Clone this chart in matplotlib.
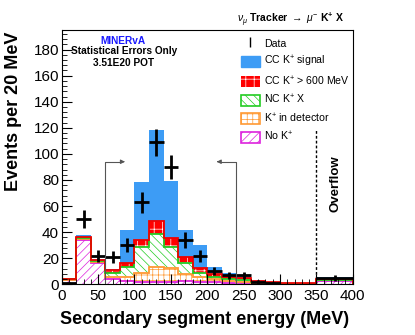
import numpy as np
import matplotlib
matplotlib.use("Agg")
import matplotlib.pyplot as plt
from matplotlib.patches import Patch
from matplotlib.lines import Line2D
from matplotlib.ticker import MultipleLocator

plt.rcParams["font.family"] = ["Liberation Sans", "DejaVu Sans"]
plt.rcParams["mathtext.fontset"] = "custom"
plt.rcParams["mathtext.rm"] = "Liberation Sans"
plt.rcParams["mathtext.it"] = "Liberation Sans:italic"
plt.rcParams["mathtext.bf"] = "Liberation Sans:bold"
plt.rcParams["hatch.linewidth"] = 0.5

# bin edges (MeV), last bin is the overflow
edges = [0, 20, 40, 60, 80, 100, 120, 140, 160, 180, 200, 220, 240,
         260, 280, 300, 320, 340, 350, 400]

# stacked MC components, bottom to top
no_k = [3, 34, 16.5, 3.8, 2.8, 2, 2, 2, 2.5, 2, 1.5, 1, 1, 0.8, 0.5, 0.3, 0.3, 0.3, 2.5]
k_det = [0.5, 0.5, 0.5, 1.6, 3.1, 7, 11.5, 10.3, 5.5, 3.4, 2.3, 1.5, 1, 0.4, 0.3, 0.1, 0.1, 0.1, 0.5]
nc_k = [0.3, 1, 1, 3.6, 7.6, 19.3, 24.8, 16, 8, 3, 2.1, 1.5, 1.2, 0.4, 0.2, 0.2, 0.2, 0.2, 0.5]
cc_hi = [0.2, 0.5, 0.5, 2, 3.1, 5.7, 10, 6.9, 4.7, 3.9, 2.1, 1.5, 1.3, 0.6, 0.5, 0.6, 0.6, 0.6, 0.5]
cc_sig = [0.5, 2, 1, 0.7, 25.4, 44.4, 70.4, 43.8, 20.9, 17.7, 5, 3, 3, 1.1, 0.5, 0.1, 0.1, 0.1, 1.5]

# data counts
data = [1, 50, 22, 21, 30, 63, 109, 90, 34, 22, 10, 7, 7, 2, 1, 0, 0, 0, 5]

cut_lo = 60
cut_hi = 240
cut_arrow_y = 94
cut_arrow_len = 27

edges = np.array(edges, dtype=float)
centers = 0.5 * (edges[1:] + edges[:-1])
halfw = 0.5 * (edges[1:] - edges[:-1])

fig = plt.figure(figsize=(4.15, 3.35), dpi=100)
ax = fig.add_axes([0.1487, 0.1513, 0.7012, 0.7591])

layers = [
    (no_k, "white", "#dd22dd", "////", "#dd22dd"),
    (k_det, "white", "#ff9933", "+++", "#ff9933"),
    (nc_k, "white", "#22cc22", "\\\\\\\\", "#22cc22"),
    (cc_hi, "#ff0000", "white", "++", "#ee0000"),
    (cc_sig, "#3d9cf5", "#3d9cf5", None, None),
]

bottom = np.zeros(len(centers))
tops = []
for vals, face, hcol, hatch, lcol in layers:
    top = bottom + np.array(vals)
    ax.stairs(top, edges, baseline=bottom, fill=True,
              facecolor=face, edgecolor=hcol, hatch=hatch, linewidth=0)
    tops.append((top, lcol))
    bottom = top

# outlines drawn after fills so they stay visible
for top, lcol in tops:
    if lcol is not None:
        ax.stairs(top, edges, color=lcol, linewidth=1.3)

data = np.array(data, dtype=float)
m = data > 0
ax.errorbar(centers[m], data[m], xerr=halfw[m], yerr=np.sqrt(data[m]),
            fmt="none", ecolor="black", elinewidth=2, capsize=0)

# cut arrows
ax.plot([cut_lo, cut_lo, cut_lo + cut_arrow_len - 6],
        [0, cut_arrow_y, cut_arrow_y], color="#555555", lw=0.8)
ax.annotate("", xy=(cut_lo + cut_arrow_len, cut_arrow_y),
            xytext=(cut_lo + cut_arrow_len - 7, cut_arrow_y),
            arrowprops=dict(arrowstyle="-|>", color="#555555", lw=0.8,
                            mutation_scale=6))
ax.plot([cut_hi, cut_hi, cut_hi - cut_arrow_len + 6],
        [0, cut_arrow_y, cut_arrow_y], color="#555555", lw=0.8)
ax.annotate("", xy=(cut_hi - cut_arrow_len, cut_arrow_y),
            xytext=(cut_hi - cut_arrow_len + 7, cut_arrow_y),
            arrowprops=dict(arrowstyle="-|>", color="#555555", lw=0.8,
                            mutation_scale=6))

# overflow marker
ax.plot([350, 350], [0, 118], color="black", lw=1, linestyle=(0, (2, 1.5)))
ax.text(376, 77, "Overflow", rotation=90, ha="center", va="center",
        fontsize=9.5, fontweight="bold")

ax.set_xlim(0, 400)
ax.set_ylim(0, 195)
ax.xaxis.set_major_locator(MultipleLocator(50))
ax.xaxis.set_minor_locator(MultipleLocator(10))
ax.yaxis.set_major_locator(MultipleLocator(20))
ax.yaxis.set_minor_locator(MultipleLocator(4))
ax.tick_params(which="both", direction="in", top=False, right=False,
               labelsize=11)
ax.tick_params(which="major", length=7)
ax.tick_params(which="minor", length=3.5)
ax.tick_params(axis="x", pad=3.5)
ax.tick_params(axis="y", pad=2)

fig.text(0.032, 0.667, "Events per 20 MeV", rotation=90, ha="center",
         va="center", fontsize=13, fontweight="bold")
fig.text(0.4924, 0.045, "Secondary segment energy (MeV)", ha="center",
         va="center", fontsize=13, fontweight="bold")

ax.text(0.211, 0.958, "MINERvA", transform=ax.transAxes, ha="center",
        va="center", fontsize=7.3, fontweight="bold", color="#1a1aff")
ax.text(0.213, 0.918, "Statistical Errors Only", transform=ax.transAxes,
        ha="center", va="center", fontsize=7.3, fontweight="bold")
ax.text(0.211, 0.871, "3.51E20 POT", transform=ax.transAxes, ha="center",
        va="center", fontsize=7.3, fontweight="bold")

fig.text(0.699, 0.943,
         r"$\nu_{\mu}$ $\mathbf{Tracker}$ $\rightarrow$ $\mu^{-}$ $\mathbf{K^{+}\ X}$",
         ha="center", va="center", fontsize=7.5)

handles = [
    Line2D([], [], color="black", marker="|", linestyle="none",
           markersize=7, markeredgewidth=1.0),
    Patch(facecolor="#3d9cf5", edgecolor="#3d9cf5"),
    Patch(facecolor="#ff0000", edgecolor="white", hatch="++", linewidth=0),
    Patch(facecolor="white", edgecolor="#22cc22", hatch="\\\\\\\\", linewidth=1.2),
    Patch(facecolor="white", edgecolor="#ff9933", hatch="+++", linewidth=1.2),
    Patch(facecolor="white", edgecolor="#dd22dd", hatch="////", linewidth=1.2),
]
labels = [
    "Data",
    r"CC K$^{+}$ signal",
    r"CC K$^{+}$ > 600 MeV",
    r"NC K$^{+}$ X",
    r"K$^{+}$ in detector",
    r"No K$^{+}$",
]
ax.legend(handles, labels, loc="upper left", bbox_to_anchor=(0.615, 0.97),
          frameon=False, fontsize=7.6, handlelength=1.85, handleheight=1.2,
          labelspacing=0.5, handletextpad=0.4, borderaxespad=0,
          borderpad=0)

plt.savefig("out.png", dpi=100)
plt.close()
